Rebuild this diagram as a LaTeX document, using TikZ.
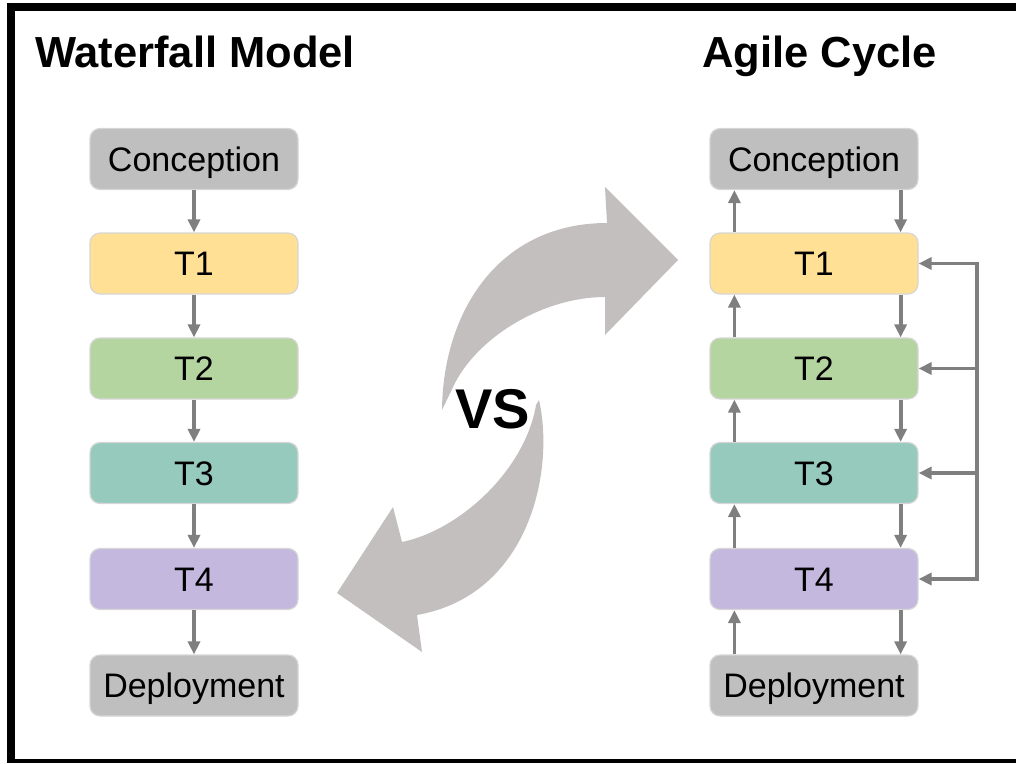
\documentclass[tikz,border=0pt]{standalone}
\usepackage{fontspec}
\setmainfont{Liberation Sans}
\usetikzlibrary{arrows.meta}
\definecolor{boxgray}{HTML}{BFBFBF}
\definecolor{tone}{HTML}{FFE094}
\definecolor{ttwo}{HTML}{B4D4A0}
\definecolor{tthree}{HTML}{96CABC}
\definecolor{tfour}{HTML}{C4B8DE}
\definecolor{arrgray}{HTML}{7F7F7F}
\definecolor{biggray}{HTML}{C3BFBF}
\tikzset{
  stepbox/.style={draw=black!16, line width=1.2pt, rounded corners=10pt,
    minimum width=208pt, minimum height=61pt, inner sep=0pt,
    text height=24pt, text depth=0pt, font=\fontsize{34}{40}\selectfont},
  arr/.style={draw=arrgray, line width=3.8pt, -{Triangle[length=13pt,width=12pt]}},
  fbline/.style={draw=arrgray, line width=3.8pt},
  title/.style={anchor=base west, inner sep=0pt, font=\bfseries\fontsize{43.5}{50}\selectfont},
  bigarrow/.style={fill=biggray, draw=none}
}
\begin{document}
\begin{tikzpicture}[x=1pt,y=-1pt]
\useasboundingbox (0,0) rectangle (1016,763);
% frame (open on the right, cut at the bottom)
\fill[black] (7,3) rectangle (1016,11);
\fill[black] (7,3) rectangle (15,763);
\fill[black] (7,759) rectangle (1016,763);

% titles
\node[title] (wt) at (35,67) {Waterfall Model};
\node[title] (at) at (702,67) {Agile Cycle};

% big arrows
\path[bigarrow] (442,410) .. controls (443,310) and (500,223) .. (607,223)
  -- (605,187) -- (678,260) -- (605,335) -- (605,297)
  .. controls (545,297) and (480,335) .. (455,383) -- cycle;
\path[bigarrow] (539,400) .. controls (555,470) and (530,595) .. (417,615)
  -- (422,652) -- (337,593) -- (393,507) -- (402,542)
  .. controls (460,530) and (525,470) .. (536,405) -- cycle;
\node[anchor=base, inner sep=0pt, font=\bfseries\fontsize{56}{60}\selectfont] (vs) at (492.5,428) {VS};

% waterfall column
\node[stepbox, fill=boxgray] (wc) at (194,159) {Conception};
\node[stepbox, fill=tone] (w1) at (194,263.5) {T1};
\node[stepbox, fill=ttwo] (w2) at (194,368.5) {T2};
\node[stepbox, fill=tthree] (w3) at (194,473) {T3};
\node[stepbox, fill=tfour] (w4) at (194,579) {T4};
\node[stepbox, fill=boxgray] (wd) at (194,685.5) {Deployment};
\draw[arr] (wc) -- (w1);
\draw[arr] (w1) -- (w2);
\draw[arr] (w2) -- (w3);
\draw[arr] (w3) -- (w4);
\draw[arr] (w4) -- (wd);

% agile column
\node[stepbox, fill=boxgray] (ac) at (814,159) {Conception};
\node[stepbox, fill=tone] (a1) at (814,263.5) {T1};
\node[stepbox, fill=ttwo] (a2) at (814,368.5) {T2};
\node[stepbox, fill=tthree] (a3) at (814,473) {T3};
\node[stepbox, fill=tfour] (a4) at (814,579) {T4};
\node[stepbox, fill=boxgray] (ad) at (814,685.5) {Deployment};

\foreach \lo/\up in {a1/ac,a2/a1,a3/a2,a4/a3,ad/a4}{
  \draw[arr] ([xshift=25pt]\lo.north west) -- ([xshift=25pt]\up.south west);
  \draw[arr] ([xshift=-18pt]\up.south east) -- ([xshift=-18pt]\lo.north east);
}

% feedback loop
\coordinate (f1) at (977,263.5);
\coordinate (f2) at (977,368.5);
\coordinate (f3) at (977,473);
\coordinate (f4) at (977,579);
\draw[fbline] ([yshift=1.9pt]f1) -- ([yshift=-1.9pt]f4);
\draw[arr] ([xshift=1.9pt]f1) -- (a1.east);
\draw[arr] (f2) -- (a2.east);
\draw[arr] (f3) -- (a3.east);
\draw[arr] ([xshift=1.9pt]f4) -- (a4.east);
\end{tikzpicture}
\end{document}
